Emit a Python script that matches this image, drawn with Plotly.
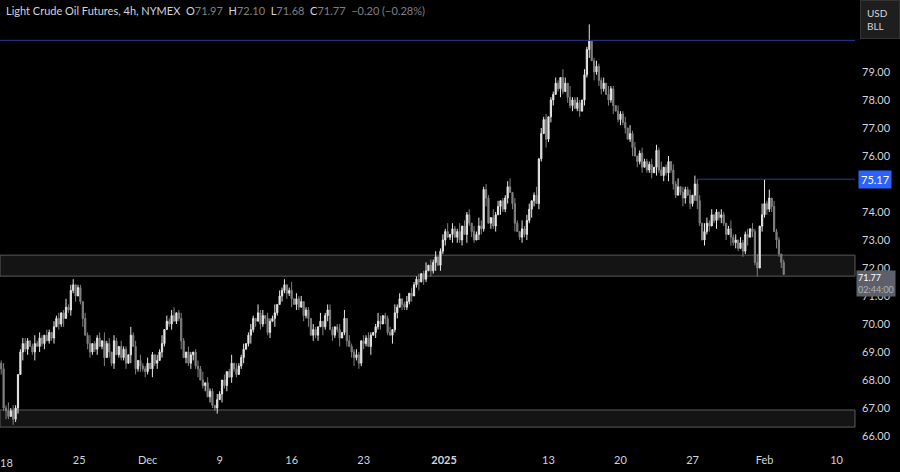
import plotly.graph_objects as go

# 4h closes, left to right
closes = [
    68.4, 67.0, 66.9, 66.7, 66.9, 66.6, 67.0, 68.2, 69.0, 69.3,
    69.1, 69.4, 69.2, 69.0, 69.3, 69.2, 69.5, 69.3, 69.6, 69.4,
    69.7, 69.5, 69.9, 70.2, 70.0, 70.4, 70.2, 70.6, 70.5, 71.2,
    71.4, 71.0, 71.3, 70.8, 70.2, 69.6, 69.3, 69.0, 69.3, 69.1,
    69.5, 69.2, 69.4, 68.8, 69.3, 69.0, 68.6, 69.4, 68.9, 69.2,
    68.8, 69.1, 68.6, 68.9, 69.6, 69.2, 68.4, 68.7, 68.5, 68.4,
    68.3, 68.6, 68.4, 68.9, 68.6, 68.7, 69.0, 69.3, 69.8, 70.1,
    70.0, 70.3, 70.1, 70.4, 70.2, 69.4, 68.8, 69.0, 68.6, 68.9,
    69.0, 68.5, 68.4, 68.0, 67.8, 67.9, 67.4, 67.6, 67.1, 67.0,
    67.3, 67.5, 68.0, 67.8, 68.3, 68.1, 68.6, 68.4, 68.2, 68.5,
    68.8, 69.1, 69.3, 69.6, 69.8, 70.2, 70.1, 70.4, 70.0, 70.3,
    70.2, 69.7, 70.1, 70.2, 70.4, 70.7, 71.0, 71.2, 71.4, 71.1,
    71.2, 70.9, 70.7, 70.9, 70.6, 70.8, 70.3, 70.5, 70.2, 69.6,
    69.8, 69.6, 69.9, 70.1, 69.9, 70.3, 70.5, 69.8, 69.6, 69.9,
    69.8, 69.5, 69.7, 70.2, 69.4, 69.2, 69.0, 68.8, 68.9, 68.6,
    69.4, 69.3, 69.5, 69.2, 69.6, 69.7, 69.9, 70.1, 70.0, 70.3,
    70.2, 69.7, 69.6, 69.8, 70.4, 70.6, 70.9, 70.7, 70.6, 70.8,
    71.1, 71.0, 71.4, 71.6, 71.5, 71.8, 71.6, 71.9, 72.1, 71.9,
    72.2, 72.4, 72.1, 72.6, 73.0, 73.3, 73.1, 73.2, 73.4, 73.1,
    73.3, 73.0, 73.5, 73.2, 73.9, 73.6, 73.3, 73.0, 73.2, 73.5,
    73.4, 74.8, 74.5, 73.6, 73.8, 73.5, 73.9, 74.2, 74.4, 74.1,
    74.5, 74.9, 74.7, 74.3, 73.6, 73.3, 73.1, 73.4, 73.2, 73.7,
    74.1, 74.4, 74.6, 74.3, 75.9, 76.8, 77.3, 76.6, 77.4, 78.0,
    78.2, 78.6, 78.4, 78.8, 78.3, 78.6, 78.1, 77.8, 78.0, 77.7,
    77.9, 77.6, 78.0, 78.9, 79.8, 80.1, 79.4, 79.0, 79.2, 78.7,
    78.4, 78.6, 78.2, 78.0, 78.4, 77.8, 77.6, 77.3, 77.5, 77.2,
    77.0, 76.6, 76.8, 76.3, 76.0, 75.8, 76.1, 75.6, 75.8, 75.5,
    75.7, 75.4, 75.6, 76.2, 75.5, 75.3, 75.6, 75.4, 75.8, 75.5,
    75.0, 74.6, 74.9, 74.7, 74.5, 74.8, 74.6, 74.3, 74.6, 75.0,
    74.4, 73.6, 73.0, 73.3, 73.6, 73.5, 73.9, 73.7, 74.0, 73.8,
    73.9, 73.6, 73.2, 73.4, 73.1, 72.9, 73.0, 72.7, 72.9, 72.6,
    73.2, 73.1, 73.4, 73.3, 72.2, 72.0, 73.5, 73.9, 74.3, 74.1,
    74.5, 74.2, 73.3, 73.0, 72.5, 72.2, 71.77,
]
first_open = 68.6

# wick lengths in tenths of a dollar (upper / lower), one digit per bar
wick_up = ("1213121012" "2101312102" "1021201312" "2011021301" "1203120210"
           "2110312021" "1201021302" "1230121021" "0121302110" "2102013021"
           "1201210312" "0211302120" "1302120110" "2103012210" "1203021121"
           "0212101320" "1120312012" "0211201302" "1201213021" "1302120213"
           "2121031201" "1230210312" "2013021201" "1210320411" "2102130121"
           "1203110211" "2031201211" "1202130120" "2130211203" "1203212010"
           "2101312021" "1202130421" "3021101")
wick_dn = ("2131021203" "1201302120" "1120213012" "1201302211" "2013021201"
           "1120302121" "2103120210" "1201130212" "2130120211" "2031202110"
           "1201312021" "2120310212" "1302102130" "2120312021" "1301202312"
           "1210302120" "2103120211" "1201302102" "1302120130" "2120312102"
           "2130212031" "1202301212" "1320210312" "2013102120" "1202130312"
           "2102130121" "2013021201" "1203102131" "2101320212" "3102120131"
           "2120312102" "1302130212" "1203120")
# a few wicks that reach the marked levels
high_marks = {245: 80.7, 290: 75.17, 318: 75.17}

ticks_x = [2, 32.5, 61, 91, 121, 151, 184.5, 228, 258, 288, 318, 348]
tick_text = ["18", "25", "Dec", "9", "16", "23", "<b>2025</b>", "13", "20", "27", "Feb", "10"]
price_ticks = [66, 67, 68, 69, 70, 71, 72, 73, 74, 75, 76, 77, 78, 79]

opens = [first_open] + closes[:-1]
highs, lows = [], []
for i, (o, c) in enumerate(zip(opens, closes)):
    highs.append(high_marks.get(i, max(o, c) + int(wick_up[i]) * 0.1))
    lows.append(min(o, c) - int(wick_dn[i]) * 0.1)
idx = list(range(len(closes)))

XMAX = 355.7
fig = go.Figure(go.Candlestick(
    x=idx, open=opens, high=highs, low=lows, close=closes,
    increasing=dict(line=dict(color="#e6e6e6", width=1), fillcolor="#e6e6e6"),
    decreasing=dict(line=dict(color="#808080", width=1), fillcolor="#808080"),
    whiskerwidth=0, hoverinfo="skip",
))

# support zones
for lo, hi in [(71.71, 72.46), (66.32, 66.93)]:
    fig.add_shape(type="rect", xref="paper", x0=0, x1=1, y0=lo, y1=hi,
                  fillcolor="#141414", line=dict(color="#5a5a5a", width=1), layer="below")
# resistance lines
fig.add_shape(type="line", xref="paper", x0=0, x1=1, y0=80.13, y1=80.13,
              line=dict(color="#2b3a9a", width=1))
fig.add_shape(type="line", x0=290, x1=XMAX, y0=75.17, y1=75.17,
              line=dict(color="#2b3a9a", width=1))

fig.update_layout(
    width=900, height=472, margin=dict(l=0, r=45, t=0, b=20),
    paper_bgcolor="#000000", plot_bgcolor="#000000",
    showlegend=False, font=dict(family="Lato", color="#d1d4dc", size=11),
    xaxis=dict(range=[-0.5, XMAX], tickvals=ticks_x[1:], ticktext=tick_text[1:],
               showgrid=False, zeroline=False, rangeslider=dict(visible=False),
               ticks="", automargin=False, tickfont=dict(size=11, color="#d1d4dc")),
    yaxis=dict(range=[65.43, 81.57], side="right", tickvals=price_ticks,
               tickformat=".2f", showgrid=False, zeroline=False, ticks="",
               automargin=False, ticklabelstandoff=6,
               tickfont=dict(size=11, color="#d1d4dc")),
)
# first date label sits at the very edge, plotly would drop it
fig.add_annotation(x=ticks_x[0], yref="paper", y=0, yanchor="top", xanchor="center",
                   yshift=-2, showarrow=False, text=tick_text[0],
                   font=dict(size=11, color="#d1d4dc"))

fig.add_annotation(
    xref="paper", yref="paper", x=0.005, y=0.995, xanchor="left", yanchor="top",
    showarrow=False, font=dict(size=11, color="#d1d4dc"),
    text="Light Crude Oil Futures, 4h, NYMEX  O<span style='color:#808080'>71.97</span>"
         "  H<span style='color:#808080'>72.10</span>  L<span style='color:#808080'>71.68</span>"
         "  C<span style='color:#808080'>71.77</span>  <span style='color:#808080'>\u22120.20 (\u22120.28%)</span>",
)
# price labels on the right axis
fig.add_annotation(xref="paper", x=1.0, y=75.17, xanchor="left", showarrow=False,
                   text="75.17", bgcolor="#2962ff", font=dict(color="#ffffff", size=11),
                   borderpad=2, xshift=3)
fig.add_annotation(xref="paper", x=1.0, y=71.45, xanchor="left", showarrow=False,
                   text="71.77<br><span style='color:#b0b0b0'>02:44:00</span>", align="left",
                   bgcolor="#5d606b", font=dict(color="#ffffff", size=9),
                   borderpad=1, xshift=1)
fig.add_annotation(xref="paper", yref="paper", x=1.0526, y=1.0, xanchor="right", yanchor="top",
                   showarrow=False, text="USD  <br>BLL  ", align="left",
                   bgcolor="#1e1e1e", bordercolor="#333333", borderpad=6,
                   font=dict(color="#d1d4dc", size=10))

# page body margin would push the figure out of the window
fig.write_html("out.html", config={"displayModeBar": False},
               post_script="document.body.style.margin='0';document.body.style.background='#000';")
